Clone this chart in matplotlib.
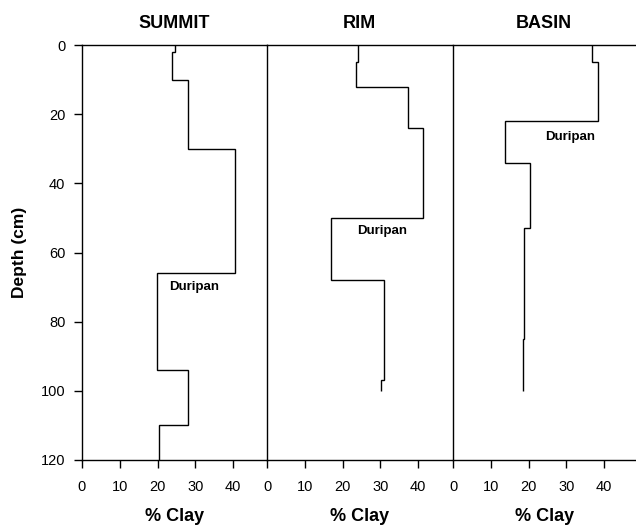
import numpy as np
import matplotlib
matplotlib.use("Agg")
import matplotlib.pyplot as plt

plt.rcParams['font.family'] = ['Liberation Sans', 'DejaVu Sans']

# horizon boundaries (cm) and clay content (%) per site
summit_depth = [0, 2, 10, 30, 66, 94, 110, 120]
summit_clay = [24.7, 23.9, 28.0, 40.4, 19.8, 28.0, 20.4]

rim_depth = [0, 5, 12, 24, 50, 68, 97, 100]
rim_clay = [24.2, 23.7, 37.4, 41.3, 17.0, 31.0, 30.2]

basin_depth = [0, 5, 22, 34, 53, 85, 100]
basin_clay = [36.8, 38.3, 13.8, 20.5, 18.8, 18.5]

sites = ['SUMMIT', 'RIM', 'BASIN']
depths = [summit_depth, rim_depth, basin_depth]
clays = [summit_clay, rim_clay, basin_clay]
label_pos = [(23.1, 69.9), (24.0, 53.7), (24.5, 26.5)]
xmax = [49.0, 49.0, 48.3]

W, H = 636, 527
fig = plt.figure(figsize=(W / 100, H / 100), dpi=100)

lefts = [82, 267, 453]
top_px, bot_px = 45, 460
scale = 185 / 49.0  # px per % clay

for i in range(3):
    w = xmax[i] * scale
    ax = fig.add_axes([lefts[i] / W, (H - bot_px) / H, w / W, (bot_px - top_px) / H])
    ax.stairs(clays[i], depths[i], orientation='horizontal', baseline=None,
              color='black', lw=1)
    ax.set_xlim(0, xmax[i])
    ax.set_ylim(120, 0)
    ax.spines['right'].set_visible(False)
    for s in ['left', 'top', 'bottom']:
        ax.spines[s].set_linewidth(1)
    ax.set_xticks([0, 10, 20, 30, 40])
    ax.tick_params(axis='x', direction='out', length=6, width=1, labelsize=10.5, pad=8.5)
    if i == 0:
        ax.set_yticks([0, 20, 40, 60, 80, 100, 120])
        ax.tick_params(axis='y', direction='out', length=6, width=1, labelsize=10.5, pad=6)
        ax.set_ylabel('Depth (cm)', fontsize=12.5, fontweight='bold', labelpad=10)
    else:
        ax.set_yticks([])
    ax.set_title(sites[i], fontsize=13, fontweight='bold', pad=12)
    ax.set_xlabel('% Clay', fontsize=13, fontweight='bold', labelpad=10)
    ax.text(label_pos[i][0], label_pos[i][1], 'Duripan', fontsize=9.5,
            fontweight='bold', va='center', ha='left')

fig.savefig('out.png', dpi=100)
